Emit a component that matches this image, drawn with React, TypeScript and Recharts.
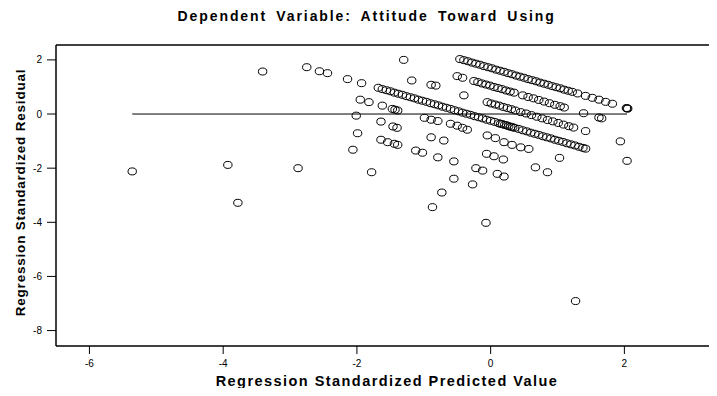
import React from 'react';
import { ScatterChart, Scatter, XAxis, YAxis, ReferenceLine } from 'recharts';

const chartTitle = 'Dependent Variable: Attitude Toward Using';
const xAxisTitle = 'Regression Standardized Predicted Value';
const yAxisTitle = 'Regression Standardized Residual';

const xTicks = [-6, -4, -2, 0, 2];
const yTicks = [-8, -6, -4, -2, 0, 2];
const xDomain: [number, number] = [-6.5, 3.385];
const yDomain: [number, number] = [-8.57, 2.55];

// horizontal reference line at residual 0 (from min to max predicted)
const zeroLineFrom = { x: -5.36, y: 0 };
const zeroLineTo = { x: 2.04, y: 0 };

// [standardized predicted value, standardized residual]
const bandTop: [number, number][] = [
  [-0.46, 2.03], [-0.40, 1.99], [-0.34, 1.95], [-0.28, 1.90], [-0.22, 1.86], [-0.16, 1.82],
  [-0.10, 1.77], [-0.04, 1.73], [0.02, 1.69], [0.08, 1.64], [0.14, 1.60], [0.20, 1.56],
  [0.26, 1.51], [0.32, 1.47], [0.38, 1.42], [0.44, 1.38], [0.50, 1.34], [0.56, 1.29],
  [0.62, 1.25], [0.68, 1.21], [0.74, 1.16], [0.80, 1.12], [0.86, 1.08], [0.92, 1.03],
  [0.98, 0.99], [1.04, 0.95], [1.10, 0.90], [1.16, 0.86], [1.22, 0.82], [1.30, 0.76],
  [1.42, 0.67], [1.52, 0.60], [1.62, 0.53], [1.72, 0.45], [1.82, 0.38],
  [2.03, 0.22], [2.04, 0.21], [2.05, 0.20],
];

const bandSecond: [number, number][] = [
  [-1.30, 2.00], [-0.50, 1.40], [-0.42, 1.34], [-0.25, 1.22], [-0.19, 1.18], [-0.13, 1.13],
  [-0.07, 1.09], [-0.01, 1.05], [0.05, 1.00], [0.11, 0.96], [0.17, 0.92], [0.23, 0.87],
  [0.29, 0.83], [0.35, 0.79], [0.48, 0.69], [0.56, 0.63], [0.64, 0.58], [0.72, 0.52],
  [0.80, 0.46], [0.88, 0.40], [0.96, 0.34], [1.04, 0.29], [1.10, 0.24], [1.39, 0.03],
  [1.62, -0.13], [1.66, -0.16],
];

const bandThird: [number, number][] = [
  [-1.18, 1.24], [-0.89, 1.08], [-0.82, 1.05], [-0.40, 0.69], [-0.05, 0.44], [0.01, 0.39],
  [0.07, 0.35], [0.13, 0.31], [0.19, 0.26], [0.25, 0.22], [0.31, 0.18], [0.37, 0.13],
  [0.45, 0.07], [0.53, 0.02], [0.61, -0.04], [0.69, -0.10], [0.77, -0.16], [0.85, -0.22],
  [0.93, -0.27], [1.01, -0.33], [1.09, -0.39], [1.17, -0.45], [1.24, -0.50], [1.42, -0.63],
  [1.94, -1.01],
];

const bandFourth: [number, number][] = [
  [-2.75, 1.73], [-2.56, 1.58], [-2.44, 1.51], [-2.14, 1.29], [-1.93, 1.14],
  [-1.68, 0.97], [-1.62, 0.92], [-1.56, 0.88], [-1.50, 0.84], [-1.44, 0.79], [-1.38, 0.75],
  [-1.32, 0.71], [-1.26, 0.66], [-1.20, 0.62], [-1.14, 0.58], [-1.08, 0.53], [-1.02, 0.49],
  [-0.96, 0.45], [-0.90, 0.40], [-0.84, 0.36], [-0.78, 0.32], [-0.72, 0.27], [-0.66, 0.23],
  [-0.60, 0.19], [-0.54, 0.14], [-0.48, 0.10], [-0.42, 0.05], [-0.36, 0.01], [-0.30, -0.03],
  [-0.24, -0.08], [-0.18, -0.12], [-0.12, -0.16], [-0.06, -0.21], [0.00, -0.25], [0.06, -0.29],
  [0.12, -0.34], [0.15, -0.36], [0.18, -0.38], [0.21, -0.40], [0.24, -0.42], [0.27, -0.45],
  [0.30, -0.47], [0.33, -0.49], [0.36, -0.51], [0.42, -0.55], [0.48, -0.60], [0.54, -0.64],
  [0.60, -0.69], [0.66, -0.73], [0.72, -0.77], [0.78, -0.82], [0.84, -0.86], [0.90, -0.90],
  [0.96, -0.95], [1.02, -0.99], [1.08, -1.03], [1.14, -1.08], [1.20, -1.12], [1.26, -1.16],
  [1.32, -1.21], [1.38, -1.25], [1.42, -1.28], [2.04, -1.73],
];

const bandFifth: [number, number][] = [
  [-3.41, 1.57], [-1.95, 0.53], [-1.82, 0.44], [-1.62, 0.31], [-1.47, 0.19], [-1.43, 0.16],
  [-1.39, 0.13], [-0.99, -0.14], [-0.89, -0.21], [-0.79, -0.26], [-0.60, -0.36], [-0.50, -0.43],
  [-0.42, -0.51], [-0.35, -0.58], [-0.05, -0.79], [0.07, -0.89], [0.20, -1.04], [0.32, -1.14],
  [0.45, -1.23], [0.57, -1.29], [1.03, -1.62],
];

const bandSixth: [number, number][] = [
  [-2.01, -0.06], [-1.64, -0.28], [-1.46, -0.46], [-1.40, -0.51], [-0.89, -0.86], [-0.70, -0.98],
  [-0.06, -1.47], [0.05, -1.56], [0.19, -1.68], [0.67, -1.97], [0.85, -2.15],
];

const bandSeventh: [number, number][] = [
  [-1.99, -0.71], [-1.64, -0.95], [-1.54, -1.04], [-1.44, -1.10], [-1.39, -1.14], [-1.12, -1.35],
  [-1.02, -1.43], [-0.79, -1.60], [-0.55, -1.75], [-0.22, -2.00], [-0.12, -2.09], [0.10, -2.21],
  [0.20, -2.31],
];

const lowResiduals: [number, number][] = [
  [-2.06, -1.32], [-0.55, -2.39], [-0.27, -2.60], [-1.78, -2.15], [-0.73, -2.90],
  [-2.88, -2.00], [-0.87, -3.44], [-0.07, -4.02], [-3.93, -1.88],
  [-5.36, -2.12], [-3.78, -3.28], [1.27, -6.91],
];

const points = [
  ...bandTop, ...bandSecond, ...bandThird, ...bandFourth,
  ...bandFifth, ...bandSixth, ...bandSeventh, ...lowResiduals,
].map(([x, y]) => ({ x, y }));

const FONT = '"Liberation Sans", Arial, Helvetica, sans-serif';

const OpenCircle = (props: any) => {
  const { cx, cy } = props;
  if (cx == null || cy == null) return null;
  return <ellipse cx={cx} cy={cy} rx={4.2} ry={3.5} fill="none" stroke="#000" strokeWidth={1} />;
};

export default function App() {
  const W = 709;
  const H = 388;
  return (
    <div style={{ position: 'relative', width: W, height: H, marginBottom: -8, background: '#fff' }}>
      <ScatterChart width={W} height={H} margin={{ top: 37, right: 0, bottom: 0, left: 0 }}>
        <XAxis
          type="number"
          dataKey="x"
          domain={xDomain}
          ticks={xTicks}
          interval={0}
          allowDataOverflow
          height={50}
          tickSize={8}
          tickMargin={6}
          axisLine={{ stroke: '#000', strokeWidth: 1.5 }}
          tickLine={{ stroke: '#000', strokeWidth: 1 }}
          tick={{ fontSize: 10, fill: '#000', fontFamily: FONT }}
        />
        <YAxis
          type="number"
          dataKey="y"
          domain={yDomain}
          ticks={yTicks}
          interval={0}
          allowDataOverflow
          width={48}
          tickSize={9}
          tickMargin={5}
          axisLine={{ stroke: '#000', strokeWidth: 1.5 }}
          tickLine={{ stroke: '#000', strokeWidth: 1 }}
          tick={{ fontSize: 10, fill: '#000', fontFamily: FONT }}
        />
        <ReferenceLine y={yDomain[1]} stroke="#000" strokeWidth={1.5} />
        <ReferenceLine segment={[zeroLineFrom, zeroLineTo]} stroke="#000" strokeWidth={1} />
        <Scatter data={points} shape={OpenCircle} isAnimationActive={false} />
      </ScatterChart>
      <svg
        width={W}
        height={H}
        style={{ position: 'absolute', left: 0, top: 0, pointerEvents: 'none', overflow: 'visible' }}
      >
        <text
          x={358.7}
          y={12.7}
          textAnchor="middle"
          fontFamily={FONT}
          fontWeight="bold"
          fontSize={14}
          letterSpacing={1.9}
          wordSpacing={3.5}
          fill="#000"
        >
          {chartTitle}
        </text>
        <text
          x={379}
          y={377.7}
          textAnchor="middle"
          fontFamily={FONT}
          fontWeight="bold"
          fontSize={14.5}
          letterSpacing={1.45}
          fill="#000"
        >
          {xAxisTitle}
        </text>
        <text
          transform="translate(16.5,184.5) rotate(-90)"
          textAnchor="middle"
          fontFamily={FONT}
          fontWeight="bold"
          fontSize={13.5}
          letterSpacing={0.8}
          fill="#000"
        >
          {yAxisTitle}
        </text>
      </svg>
    </div>
  );
}
